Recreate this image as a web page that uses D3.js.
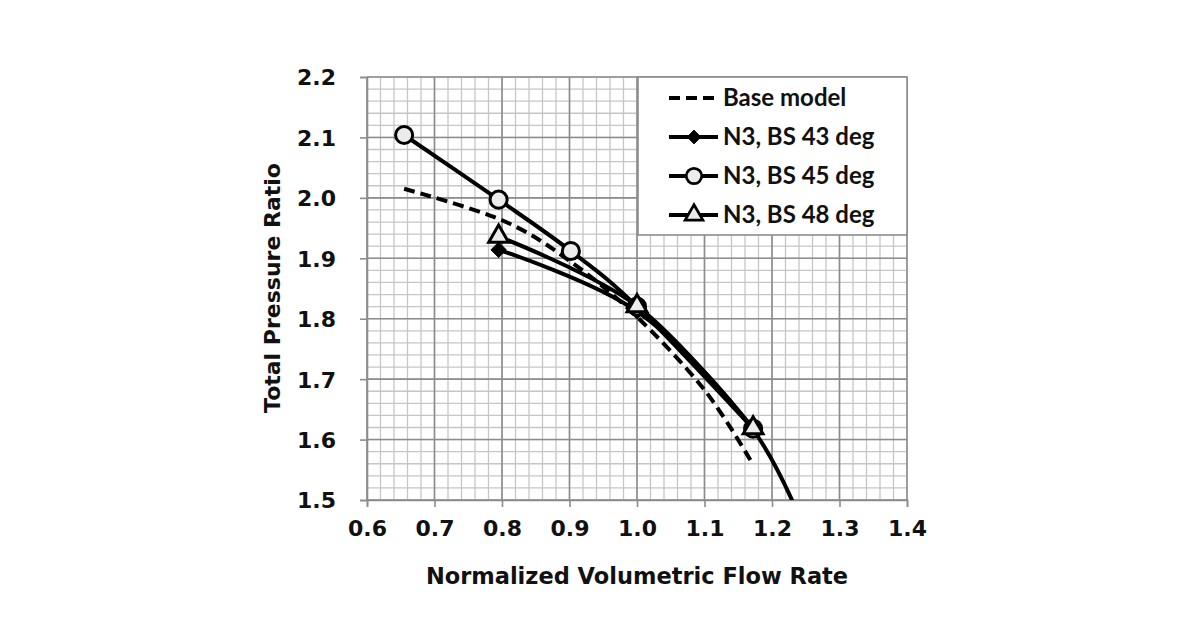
<!DOCTYPE html>
<html><head><meta charset="utf-8">
<script src="https://cdn.jsdelivr.net/npm/d3@7"></script>
<style>
body{margin:0;background:#fff;}
text{font-family:"DejaVu Sans",sans-serif;font-weight:bold;fill:#111;}
</style></head>
<body><svg id="c" width="1190" height="622"></svg>
<script>
const xTicks = [0.6,0.7,0.8,0.9,1.0,1.1,1.2,1.3,1.4];
const yTicks = [1.5,1.6,1.7,1.8,1.9,2.0,2.1,2.2];
const seriesNames = ["Base model","N3, BS 43 deg","N3, BS 45 deg","N3, BS 48 deg"];
const baseX = [0.655,0.8,0.9,1.0,1.1,1.168];
const baseY = [2.015,1.963,1.896,1.803,1.682,1.566];
const bs43X = [0.795,1.0,1.172,1.26];
const bs43Y = [1.914,1.812,1.616,1.42];
const bs45X = [0.655,0.795,0.902,1.0,1.172];
const bs45Y = [2.104,1.997,1.912,1.820,1.618];
const bs48X = [0.795,1.0,1.172];
const bs48Y = [1.936,1.821,1.619];

const svg = d3.select("#c");
const L=367,R=907,T=77,B=500;
const x = d3.scaleLinear().domain([0.6,1.4]).range([L,R]);
const y = d3.scaleLinear().domain([1.5,2.2]).range([B,T]);

const g = svg.append("g");
const minorX = d3.range(0,41).map(i=>0.6+i*0.02);
const minorY = d3.range(0,36).map(i=>1.5+i*0.02);
g.selectAll(".mx").data(minorX).enter().append("line")
 .attr("x1",d=>x(d)).attr("x2",d=>x(d)).attr("y1",T).attr("y2",B)
 .attr("stroke","#c6c6c6").attr("stroke-width",1.3);
g.selectAll(".my").data(minorY).enter().append("line")
 .attr("y1",d=>y(d)).attr("y2",d=>y(d)).attr("x1",L).attr("x2",R)
 .attr("stroke","#c6c6c6").attr("stroke-width",1.3);
g.selectAll(".Mx").data(xTicks).enter().append("line")
 .attr("x1",d=>x(d)).attr("x2",d=>x(d)).attr("y1",T).attr("y2",B)
 .attr("stroke","#8c8c8c").attr("stroke-width",1.6);
g.selectAll(".My").data(yTicks).enter().append("line")
 .attr("y1",d=>y(d)).attr("y2",d=>y(d)).attr("x1",L).attr("x2",R)
 .attr("stroke","#8c8c8c").attr("stroke-width",1.6);

const xa = svg.append("g").attr("transform",`translate(0,${B})`)
 .call(d3.axisBottom(x).tickValues(xTicks).tickFormat(d3.format(".1f")).tickSize(7).tickPadding(13));
const ya = svg.append("g").attr("transform",`translate(${L},0)`)
 .call(d3.axisLeft(y).tickValues(yTicks).tickFormat(d3.format(".1f")).tickSize(7).tickPadding(24));
[xa,ya].forEach(a=>{
  a.select(".domain").attr("stroke","#8c8c8c").attr("stroke-width",1.6);
  a.selectAll(".tick line").attr("stroke","#8c8c8c").attr("stroke-width",1.6);
  a.selectAll("text").style("font-size","22px").style("font-family","'DejaVu Sans', sans-serif").style("font-weight","bold").attr("fill","#111");
});
ya.selectAll("text").attr("dy","0.36em");

svg.append("text").attr("x",637).attr("y",584).attr("text-anchor","middle").style("font-size","22.5px").text("Normalized Volumetric Flow Rate");
svg.append("text").attr("transform","translate(280,288) rotate(-90)").attr("text-anchor","middle").style("font-size","22px").text("Total Pressure Ratio");

svg.append("clipPath").attr("id","clip").append("rect").attr("x",L).attr("y",T).attr("width",R-L).attr("height",B-T);
const plot = svg.append("g").attr("clip-path","url(#clip)");
const line = d3.line().x(d=>x(d[0])).y(d=>y(d[1])).curve(d3.curveCatmullRom.alpha(0));
const zip=(a,b)=>a.map((v,i)=>[v,b[i]]);
const base = zip(baseX,baseY), s43=zip(bs43X,bs43Y), s45=zip(bs45X,bs45Y), s48=zip(bs48X,bs48Y);

plot.append("path").attr("d",line(base)).attr("fill","none").attr("stroke","#000").attr("stroke-width",4).attr("stroke-dasharray","11,6");
[s43,s45,s48].forEach(s=>plot.append("path").attr("d",line(s)).attr("fill","none").attr("stroke","#000").attr("stroke-width",4));

const diamond = d3.symbol().type(d3.symbolDiamond2).size(150);
const tri = d3.symbol().type(d3.symbolTriangle).size(170);
const circ = d3.symbol().type(d3.symbolCircle).size(230);
function drawMarkers(parent,data,kind,scale){
  const s = scale||1;
  parent.selectAll(null).data(data).enter().append("path")
   .attr("transform",d=>`translate(${x(d[0])},${y(d[1])}) scale(${s})`)
   .attr("d",kind==="d"?diamond():kind==="t"?tri():circ())
   .attr("fill",kind==="d"?"#000":"#ececec").attr("stroke","#000").attr("stroke-width",kind==="d"?1:3);
}
drawMarkers(plot,s43,"d");
drawMarkers(plot,s45,"c");
drawMarkers(plot,s48,"t");

const lg = svg.append("g");
lg.append("rect").attr("x",638).attr("y",77).attr("width",269).attr("height",158).attr("fill","#fff").attr("stroke","#8c8c8c").attr("stroke-width",1.6);
const rows=[98,137,176,215];
const kinds=[null,"d","c","t"];
seriesNames.forEach((n,i)=>{
  const yy=rows[i];
  lg.append("line").attr("x1",669).attr("x2",718).attr("y1",yy).attr("y2",yy).attr("stroke","#000").attr("stroke-width",4).attr("stroke-dasharray",i===0?"11,6":null);
  if(kinds[i]) drawMarkers(lg,[[x.invert(694),y.invert(yy)]],kinds[i],0.9);
  lg.append("text").attr("x",723).attr("y",yy).attr("dy","0.32em").style("font-family","Lato, sans-serif").style("font-size","24px").text(n);
});
</script></body></html>
